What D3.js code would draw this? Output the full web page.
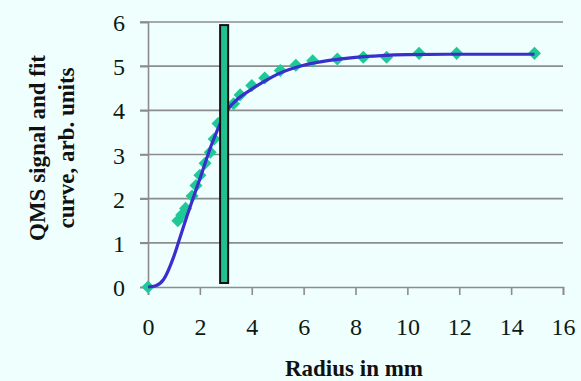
<!DOCTYPE html>
<html><head><meta charset="utf-8">
<script src="https://cdn.jsdelivr.net/npm/d3@7"></script>
<style>
html,body{margin:0;padding:0;background:#effffd;}
svg{display:block;}
text{font-family:"Liberation Serif","Times New Roman",serif;}
</style></head>
<body>
<svg id="c" width="581" height="381"></svg>
<script>
// Measured QMS signal (diamonds)
const dataX = [0, 1.15, 1.3, 1.45, 1.7, 1.85, 2.0, 2.2, 2.4, 2.55, 2.7, 3.3, 3.55, 4.0, 4.5, 5.1, 5.7, 6.35, 7.3, 8.3, 9.2, 10.45, 11.9, 14.9];
const dataY = [0, 1.5, 1.63, 1.78, 2.06, 2.3, 2.53, 2.8, 3.05, 3.35, 3.7, 4.15, 4.35, 4.56, 4.73, 4.9, 5.02, 5.12, 5.16, 5.2, 5.2, 5.29, 5.29, 5.29];
// Fit curve
const fitX = [0, 0.3, 0.6, 1.0, 1.25, 1.5, 2.0, 2.5, 3.05, 3.5, 4.0, 4.5, 5.0, 6.0, 7.0, 8.0, 9.0, 10.0, 12.0, 14.9];
const fitY = [0, 0.03, 0.17, 0.7, 1.15, 1.6, 2.45, 3.3, 4.0, 4.28, 4.48, 4.66, 4.82, 5.02, 5.13, 5.2, 5.24, 5.26, 5.27, 5.27];
// Vertical marker bar (data units)
const markerX = [2.78, 3.09];
const markerY = [0.09, 5.93];
const xTicks = [0, 2, 4, 6, 8, 10, 12, 14, 16];
const yTicks = [0, 1, 2, 3, 4, 5, 6];
const xTitle = "Radius in mm";
const yTitle = ["QMS signal and fit", "curve, arb. units"];

const svg = d3.select("#c");
const x = d3.scaleLinear().domain([0, 16]).range([148, 563]);
const y = d3.scaleLinear().domain([0, 6]).range([287, 22]);

// gridlines
svg.append("g").selectAll("line").data(yTicks.filter(d => d > 0)).join("line")
  .attr("x1", 140).attr("x2", x(16)).attr("y1", d => y(d)).attr("y2", d => y(d))
  .attr("stroke", "#8c8c8c").attr("stroke-width", 1.6);

// axes
const xAxis = svg.append("g").attr("transform", `translate(0,${y(0)})`)
  .call(d3.axisBottom(x).tickValues(xTicks).tickSize(8).tickPadding(23).tickFormat(d3.format("d")));
const yAxis = svg.append("g").attr("transform", `translate(${x(0)},0)`)
  .call(d3.axisLeft(y).tickValues(yTicks).tickSize(8).tickPadding(15).tickFormat(d3.format("d")));
[xAxis, yAxis].forEach(a => {
  a.select(".domain").attr("stroke", "#8c8c8c").attr("stroke-width", 1.6);
  a.selectAll(".tick line").attr("stroke", "#8c8c8c").attr("stroke-width", 1.6);
  a.selectAll(".tick text").attr("fill", "#0c1a12").style("font-size", "24px")
    .style("font-family", "'Liberation Serif','Times New Roman',serif");
});
yAxis.selectAll(".tick text").attr("dy", "0.36em");

// diamonds
const pts = dataX.map((d, i) => [d, dataY[i]]);
svg.append("g").selectAll("path").data(pts).join("path")
  .attr("transform", d => `translate(${x(d[0])},${y(d[1])}) rotate(45)`)
  .attr("d", d3.symbol(d3.symbolSquare, 85))
  .attr("fill", "#1fc997");

// fit curve
const fit = fitX.map((d, i) => [d, fitY[i]]);
svg.append("path").datum(fit)
  .attr("d", d3.line().x(d => x(d[0])).y(d => y(d[1])).curve(d3.curveMonotoneX))
  .attr("fill", "none").attr("stroke", "#3a2ecc").attr("stroke-width", 3.2);

// marker bar
svg.append("rect")
  .attr("x", x(markerX[0])).attr("width", x(markerX[1]) - x(markerX[0]))
  .attr("y", y(markerY[1])).attr("height", y(markerY[0]) - y(markerY[1]))
  .attr("fill", "#22c08e").attr("stroke", "#111").attr("stroke-width", 2);

// titles
svg.append("text").attr("x", 354).attr("y", 376).attr("text-anchor", "middle")
  .style("font-size", "23px").style("font-weight", "bold").attr("fill", "#111")
  .text(xTitle);
yTitle.forEach((t, i) => {
  svg.append("text").attr("transform", `translate(${45 + i * 29},148) rotate(-90)`)
    .attr("text-anchor", "middle").style("font-size", "23px").style("font-weight", "bold")
    .attr("fill", "#111").text(t);
});
</script>
</body></html>
